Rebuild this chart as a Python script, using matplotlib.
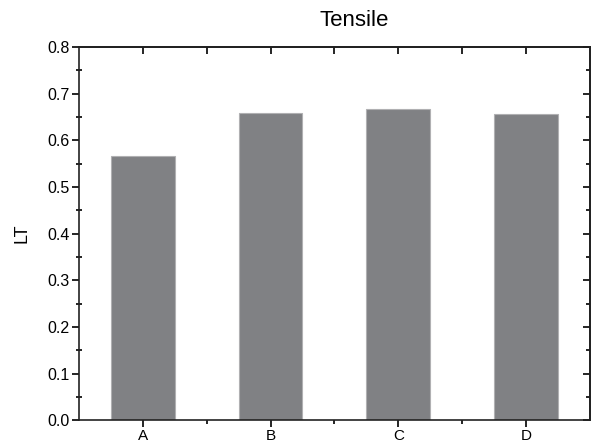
import matplotlib.pyplot as plt
import numpy as np
from matplotlib.ticker import MultipleLocator, FixedLocator

plt.rcParams['font.family'] = ['Liberation Sans', 'DejaVu Sans']

# data
samples = ["A", "B", "C", "D"]
lt = [0.566, 0.659, 0.668, 0.656]

x = np.arange(1, len(samples) + 1)

fig = plt.figure(figsize=(5.94, 4.48), dpi=100)
ax = fig.add_axes([0.133, 0.062, 0.860, 0.833])

ax.bar(x, lt, width=0.5, color="#808184", edgecolor="#b0b0b2", linewidth=0.8, zorder=2)

ax.set_xlim(0.5, 4.5)
ax.set_ylim(0, 0.8)
ax.set_xticks(x)
ax.set_xticklabels(samples)
ax.xaxis.set_minor_locator(FixedLocator([1.5, 2.5, 3.5]))
ax.yaxis.set_major_locator(MultipleLocator(0.1))
ax.yaxis.set_minor_locator(MultipleLocator(0.05))
ax.yaxis.set_major_formatter(plt.FormatStrFormatter("%.1f"))

ax.tick_params(which="major", direction="out", length=5, width=1.2, labelsize=11.5, pad=2)
ax.tick_params(axis="x", which="major", pad=1, labelsize=11)
ax.tick_params(which="minor", direction="out", length=3, width=1.2)
ax.tick_params(axis="y", which="minor", direction="inout", length=4)

for s in ax.spines.values():
    s.set_linewidth(1.2)
    s.set_color("#222222")

# inward ticks on top and right
top = ax.secondary_xaxis("top")
top.set_xticks(x)
top.xaxis.set_minor_locator(FixedLocator([1.5, 2.5, 3.5]))
top.tick_params(which="both", direction="in", length=5, width=1.2, labeltop=False)
top.spines["top"].set_linewidth(1.2)

right = ax.secondary_yaxis("right")
right.yaxis.set_major_locator(MultipleLocator(0.1))
right.yaxis.set_minor_locator(MultipleLocator(0.05))
right.tick_params(which="major", direction="in", length=5, width=1.2, labelright=False)
right.tick_params(which="minor", direction="in", length=3, width=1.2)
right.spines["right"].set_linewidth(1.2)

ax.set_ylabel("LT", fontsize=13, labelpad=12)
fig.text(0.596, 0.955, "Tensile", fontsize=16, ha="center", va="center")

fig.savefig("out.png", dpi=100)
